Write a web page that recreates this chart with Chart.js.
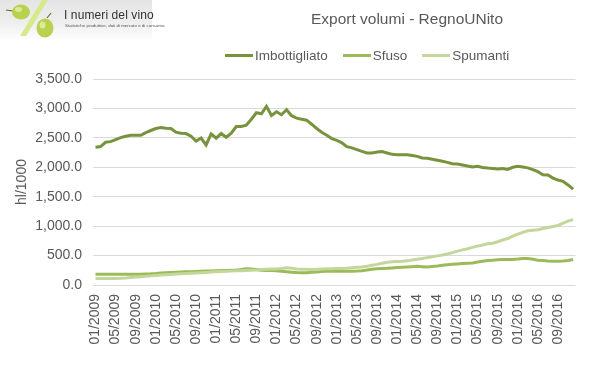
<!DOCTYPE html>
<html>
<head>
<meta charset="utf-8">
<script src="https://cdn.jsdelivr.net/npm/chart.js@4/dist/chart.umd.min.js"></script>
<style>
  html, body { margin: 0; padding: 0; background: #fff; }
  #wrap { position: relative; width: 599px; height: 378px; overflow: hidden; font-family: "Liberation Sans", Arial, sans-serif; }
  #c { position: absolute; left: 0; top: 0; }
  #logo { position: absolute; left: 0; top: 0; width: 152px; height: 39px; background: linear-gradient(to bottom, #e4e4e4 0%, #efefef 60%, #fdfdfd 100%); }
  #logo svg { position: absolute; left: 0; top: 0; }
  #logo .t1 { position: absolute; left: 64px; top: 8px; font-size: 12px; color: #333; white-space: nowrap; letter-spacing: 0.1px; }
  #logo .t2 { position: absolute; left: 65px; top: 23px; font-size: 4.4px; color: #555; white-space: nowrap; }
  #title { position: absolute; left: 257px; width: 300px; top: 10px; text-align: center; font-size: 15.5px; color: #595959; }
  #legend { position: absolute; left: 225px; top: 48px; display: flex; align-items: center; font-size: 13.5px; color: #595959; white-space: nowrap; }
  #legend .item { display: flex; align-items: center; margin-right: 15px; }
  #legend .sw { width: 28px; height: 3px; margin-right: 2px; }
</style>
</head>
<body>
<div id="wrap">
  <canvas id="c" width="599" height="378"></canvas>
  <div id="logo">
    <svg width="152" height="39" viewBox="0 0 152 39">
      <polygon points="42,0 48,0 26,36 20,36" fill="#d6ea8c"/>
      <line x1="6" y1="10" x2="13" y2="11" stroke="#7a5a2a" stroke-width="1.2"/>
      <ellipse cx="21" cy="12" rx="9" ry="7.5" fill="#b8d24e"/>
      <ellipse cx="18.5" cy="9.5" rx="3.5" ry="2.5" fill="#d9ea9a"/>
      <line x1="47" y1="18" x2="51" y2="13" stroke="#7a5a2a" stroke-width="1.2"/>
      <ellipse cx="45" cy="28" rx="8.5" ry="9.5" fill="#b8d24e"/>
      <ellipse cx="42.5" cy="25" rx="3" ry="3.5" fill="#d9ea9a"/>
    </svg>
    <div class="t1">I numeri del vino</div>
    <div class="t2">Statistiche produttive, dati di mercato e di consumo.</div>
  </div>
  <div id="title">Export volumi - RegnoUNito</div>
  <div id="legend"></div>
</div>
<script>
const categories = [
  "01/2009","02/2009","03/2009","04/2009","05/2009","06/2009","07/2009","08/2009","09/2009","10/2009","11/2009","12/2009",
  "01/2010","02/2010","03/2010","04/2010","05/2010","06/2010","07/2010","08/2010","09/2010","10/2010","11/2010","12/2010",
  "01/2011","02/2011","03/2011","04/2011","05/2011","06/2011","07/2011","08/2011","09/2011","10/2011","11/2011","12/2011",
  "01/2012","02/2012","03/2012","04/2012","05/2012","06/2012","07/2012","08/2012","09/2012","10/2012","11/2012","12/2012",
  "01/2013","02/2013","03/2013","04/2013","05/2013","06/2013","07/2013","08/2013","09/2013","10/2013","11/2013","12/2013",
  "01/2014","02/2014","03/2014","04/2014","05/2014","06/2014","07/2014","08/2014","09/2014","10/2014","11/2014","12/2014",
  "01/2015","02/2015","03/2015","04/2015","05/2015","06/2015","07/2015","08/2015","09/2015","10/2015","11/2015","12/2015",
  "01/2016","02/2016","03/2016","04/2016","05/2016","06/2016","07/2016","08/2016","09/2016","10/2016","11/2016","12/2016"
];

const imbottigliato = [
  2340,2352,2425,2436,2471,2505,2528,2545,2545,2545,2590,2625,
  2659,2676,2665,2659,2596,2579,2573,2528,2445,2497,2380,2568,
  2495,2573,2510,2579,2693,2693,2715,2817,2927,2910,3035,2881,
  2944,2893,2978,2876,2835,2817,2800,2732,2659,2596,2544,2488,
  2459,2415,2350,2330,2300,2270,2244,2244,2260,2266,2244,2220,
  2215,2215,2212,2200,2186,2159,2152,2135,2118,2101,2084,2061,
  2056,2039,2022,2005,2016,1998,1988,1981,1971,1981,1964,2000,
  2016,2005,1990,1960,1925,1874,1868,1817,1783,1762,1700,1628
];

const sfuso = [
  182,182,182,182,182,182,182,182,182,182,186,190,
  196,205,210,213,217,220,224,227,230,233,236,240,
  244,246,248,250,252,262,275,272,262,252,248,245,
  240,232,225,218,212,210,210,215,222,228,232,233,
  233,233,234,235,238,244,255,268,275,280,284,290,
  296,301,306,312,318,312,307,315,324,335,345,352,
  358,364,370,375,390,405,415,422,430,432,432,432,
  440,452,449,438,422,415,408,403,405,409,415,432
];

const spumanti = [
  112,112,112,112,112,115,120,127,135,142,148,155,
  162,168,174,180,185,190,195,200,205,210,214,219,
  224,228,232,236,240,244,248,252,256,262,266,270,
  272,280,292,285,272,268,266,265,266,270,275,278,
  280,282,285,292,300,307,320,335,350,370,386,395,
  400,403,410,425,437,450,465,480,495,510,528,550,
  575,597,615,640,660,680,700,710,735,765,790,830,
  864,895,921,930,940,960,978,995,1012,1050,1085,1110
];

const seriesNames = ["Imbottigliato", "Sfuso", "Spumanti"];
const seriesColors = ["#77933C", "#9BBB59", "#C3D69B"];
const yTicks = [0, 500, 1000, 1500, 2000, 2500, 3000, 3500];

const seriesData = [imbottigliato, sfuso, spumanti];
const datasets = seriesNames.map((name, i) => ({
  label: name,
  data: seriesData[i],
  borderColor: seriesColors[i],
  backgroundColor: seriesColors[i],
  borderWidth: 3,
  pointRadius: 0,
  tension: 0,
  fill: false,
  order: 3 - i
}));

// HTML legend built from the series
const legend = document.getElementById('legend');
seriesNames.forEach((name, i) => {
  const item = document.createElement('div');
  item.className = 'item';
  const sw = document.createElement('span');
  sw.className = 'sw';
  sw.style.background = seriesColors[i];
  const tx = document.createElement('span');
  tx.textContent = name;
  item.appendChild(sw);
  item.appendChild(tx);
  legend.appendChild(item);
});

const fmt = v => v.toLocaleString('en-US', { minimumFractionDigits: 1, maximumFractionDigits: 1 });

new Chart(document.getElementById('c'), {
  type: 'line',
  data: { labels: categories, datasets },
  options: {
    responsive: false,
    animation: false,
    devicePixelRatio: 1,
    layout: { padding: { left: 0, right: 22, top: 79, bottom: 0 } },
    plugins: { legend: { display: false }, title: { display: false }, tooltip: { enabled: false } },
    scales: {
      x: {
        type: 'category',
        offset: true,
        grid: { display: false, drawTicks: false },
        border: { display: false },
        ticks: {
          autoSkip: false,
          maxRotation: 90,
          minRotation: 90,
          padding: 9,
          color: '#595959',
          font: { family: '"Liberation Sans", Arial, sans-serif', size: 14 },
          callback: (val, idx) => (idx % 4 === 0 ? categories[idx] : '')
        },
        afterFit: s => { s.height = 93; }
      },
      y: {
        min: 0,
        max: 3500,
        afterBuildTicks: s => { s.ticks = yTicks.map(v => ({ value: v })); },
        grid: { color: '#d9d9d9', lineWidth: 1, drawTicks: false },
        border: { display: false },
        ticks: {
          padding: 11,
          color: '#595959',
          font: { family: '"Liberation Sans", Arial, sans-serif', size: 14 },
          callback: v => fmt(v)
        },
        title: {
          display: true,
          text: 'hl/1000',
          color: '#595959',
          font: { family: '"Liberation Sans", Arial, sans-serif', size: 14 },
          padding: { top: 14, bottom: 0 }
        },
        afterFit: s => { s.width = 93; }
      }
    }
  }
});
</script>
</body>
</html>
